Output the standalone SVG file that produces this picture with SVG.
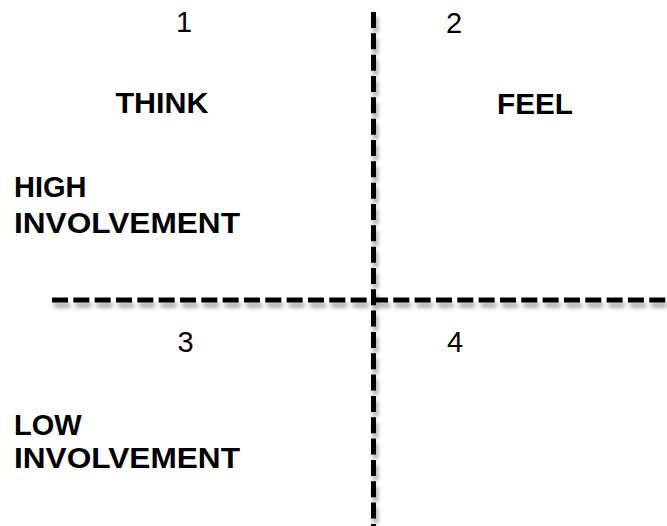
<svg xmlns="http://www.w3.org/2000/svg" width="667" height="526" viewBox="0 0 667 526">
<defs>
<filter id="sh" x="-10%" y="-10%" width="120%" height="120%">
<feDropShadow dx="2" dy="5" stdDeviation="2" flood-color="#000" flood-opacity="0.35"/>
</filter>
</defs>
<style>
.ax{stroke:#000;stroke-width:5;stroke-dasharray:16 5.33;fill:none}
.num{font-family:"Liberation Sans",Arial,sans-serif;font-size:29px;fill:#000;text-anchor:middle}
.hd{font-family:"Liberation Sans",Arial,sans-serif;font-size:29px;font-weight:bold;fill:#000}
.c{text-anchor:middle}
</style>
<rect width="667" height="526" fill="#fff"/>
<g id="connectors" filter="url(#sh)">
<line class="ax" x1="373.5" y1="12" x2="373.5" y2="526"/>
<line class="ax" x1="52" y1="300" x2="667" y2="300"/>
</g>
<g id="q1"><text class="num" x="184" y="32">1</text></g>
<g id="q2"><text class="num" x="454" y="33">2</text></g>
<g id="q3"><text class="num" x="185.5" y="352">3</text></g>
<g id="q4"><text class="num" x="455" y="352">4</text></g>
<g id="think"><text class="hd c" x="162" y="113" textLength="93" lengthAdjust="spacingAndGlyphs">THINK</text></g>
<g id="feel"><text class="hd c" x="535" y="114" textLength="76" lengthAdjust="spacingAndGlyphs">FEEL</text></g>
<g id="high"><text class="hd" x="14" y="197">HIGH</text><text class="hd" x="14" y="233" textLength="226" lengthAdjust="spacingAndGlyphs">INVOLVEMENT</text></g>
<g id="low"><text class="hd" x="14" y="435">LOW</text><text class="hd" x="14" y="468" textLength="226" lengthAdjust="spacingAndGlyphs">INVOLVEMENT</text></g>
</svg>
